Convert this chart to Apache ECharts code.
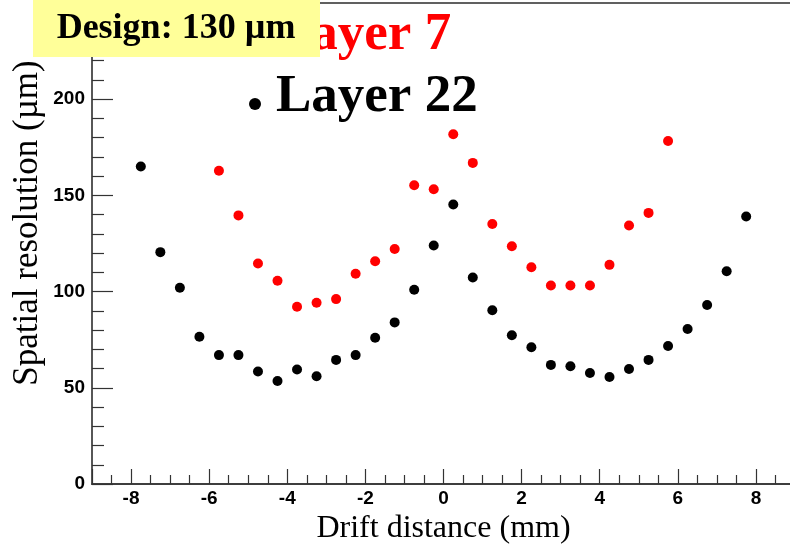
<!DOCTYPE html>
<html>
<head>
    <meta charset="utf-8">
    <title>Spatial resolution vs drift distance</title>
    <script src="https://cdn.jsdelivr.net/npm/echarts@6/dist/echarts.min.js"></script>
    <style>
        html, body { margin: 0; padding: 0; background: #fff; }
    </style>
</head>
<body>
    <div id="main" style="width: 790px;height:547px;"></div>

    <script type="text/javascript">

        // drift distance bin centres (mm)
        var layer22X = [-7.75, -7.25, -6.75, -6.25, -5.75, -5.25, -4.75, -4.25,
                        -3.75, -3.25, -2.75, -2.25, -1.75, -1.25, -0.75, -0.25,
                        0.25, 0.75, 1.25, 1.75, 2.25, 2.75, 3.25, 3.75,
                        4.25, 4.75, 5.25, 5.75, 6.25, 6.75, 7.25, 7.75];
        // spatial resolution (um), layer 22
        var layer22Y = [165, 120.5, 102, 76.5, 67, 67, 58.5, 53.5,
                        59.5, 56, 64.5, 67, 76, 84, 101, 124,
                        145.3, 107.3, 90.3, 77.3, 71.1, 61.9, 61.2, 57.7,
                        55.6, 59.8, 64.5, 71.7, 80.6, 93, 110.6, 139];

        var layer7X = [-5.75, -5.25, -4.75, -4.25, -3.75, -3.25, -2.75, -2.25,
                       -1.75, -1.25, -0.75, -0.25, 0.25, 0.75, 1.25, 1.75,
                       2.25, 2.75, 3.25, 3.75, 4.25, 4.75, 5.25, 5.75];
        // spatial resolution (um), layer 7
        var layer7Y = [162.8, 139.6, 114.6, 105.6, 92.1, 94.2, 96.1, 109.3,
                       115.8, 122.1, 155.3, 153.2, 181.8, 166.9, 135.1, 123.6,
                       112.7, 103.2, 103.2, 103.2, 113.9, 134.4, 140.9, 178.3];

        var xRange = [-9, 9];
        var yRange = [0, 250];

        function pairs(xs, ys) {
            var out = [];
            for (var i = 0; i < xs.length; i++) {
                out.push([xs[i], ys[i]]);
            }
            return out;
        }

        var myChart = echarts.init(document.getElementById('main'));

        var serif = '"Liberation Serif", "Times New Roman", serif';
        var sans = '"Liberation Sans", Arial, sans-serif';

        var option = {
            animation: false,
            grid: {
                left: 92,
                right: -5,
                top: 3,
                bottom: 63,
                containLabel: false,
                outerBoundsMode: 'none',
                show: true,
                borderColor: '#606060',
                borderWidth: 2,
                backgroundColor: 'transparent'
            },
            xAxis: {
                type: 'value',
                min: xRange[0],
                max: xRange[1],
                splitNumber: 9,
                minInterval: 2,
                maxInterval: 2,
                axisLine: { show: true, onZero: false, lineStyle: { color: '#333', width: 1.5 } },
                axisTick: { show: true, inside: true, length: 15, lineStyle: { color: '#333', width: 1.2 } },
                minorTick: { show: true, splitNumber: 4, length: 9, lineStyle: { color: '#333', width: 1.2 } },
                splitLine: { show: false },
                axisLabel: {
                    margin: 5,
                    showMinLabel: false,
                    showMaxLabel: false,
                    color: '#000',
                    fontFamily: sans,
                    fontWeight: 'bold',
                    fontSize: 19
                },
                name: 'Drift distance (mm)',
                nameLocation: 'middle',
                nameGap: 27,
                nameTextStyle: { color: '#000', fontFamily: serif, fontSize: 32 }
            },
            yAxis: {
                type: 'value',
                min: yRange[0],
                max: yRange[1],
                interval: 50,
                axisLine: { show: true, onZero: false, lineStyle: { color: '#555', width: 1.5 } },
                axisTick: { show: true, inside: true, length: 21, lineStyle: { color: '#333', width: 1.2 } },
                minorTick: { show: true, splitNumber: 5, length: 12, lineStyle: { color: '#333', width: 1.2 } },
                splitLine: { show: false },
                axisLabel: {
                    margin: 7,
                    color: '#000',
                    fontFamily: sans,
                    fontWeight: 'bold',
                    fontSize: 19
                }
            },
            series: [
                {
                    name: 'Layer 7',
                    type: 'scatter',
                    symbol: 'circle',
                    symbolSize: 10,
                    itemStyle: { color: '#ff0000', opacity: 1 },
                    data: pairs(layer7X, layer7Y)
                },
                {
                    name: 'Layer 22',
                    type: 'scatter',
                    symbol: 'circle',
                    symbolSize: 10,
                    itemStyle: { color: '#000000', opacity: 1 },
                    data: pairs(layer22X, layer22Y)
                }
            ],
            graphic: [
                // y axis title
                {
                    type: 'text',
                    x: 28, y: 223,
                    rotation: Math.PI / 2,
                    z: 50,
                    style: {
                        text: 'Spatial resolution (\u00b5m)',
                        font: '35px ' + serif,
                        fill: '#000',
                        align: 'center',
                        verticalAlign: 'middle'
                    }
                },
                // legend
                {
                    type: 'circle', z: 100,
                    shape: { cx: 255, cy: 40, r: 6 },
                    style: { fill: '#ff0000' }
                },
                {
                    type: 'text', x: 276, y: 35, z: 100,
                    style: {
                        text: 'Layer 7',
                        font: 'bold 53px ' + serif,
                        fill: '#ff0000',
                        align: 'left',
                        verticalAlign: 'middle'
                    }
                },
                {
                    type: 'circle', z: 100,
                    shape: { cx: 255, cy: 104, r: 6 },
                    style: { fill: '#000' }
                },
                {
                    type: 'text', x: 276, y: 97, z: 100,
                    style: {
                        text: 'Layer 22',
                        font: 'bold 53px ' + serif,
                        fill: '#000',
                        align: 'left',
                        verticalAlign: 'middle'
                    }
                },
                // design box
                {
                    type: 'rect', z: 110,
                    shape: { x: 33, y: 0, width: 287, height: 57 },
                    style: { fill: '#ffff99' }
                },
                {
                    type: 'text', x: 176, y: 29, z: 111,
                    style: {
                        text: 'Design: 130 \u00b5m',
                        font: 'bold 36px ' + serif,
                        fill: '#000',
                        align: 'center',
                        verticalAlign: 'middle'
                    }
                }
            ]
        };

        myChart.setOption(option);

    </script>

</body>
</html>
